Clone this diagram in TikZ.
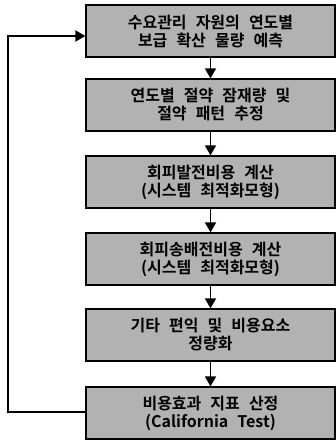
\documentclass[tikz,border=0pt]{standalone}
\usepackage{fontspec}
\newfontfamily\kr{Noto Sans CJK KR}[BoldFont={* Bold},WordSpace=2.5]
\usetikzlibrary{arrows.meta}
\begin{document}
\begin{tikzpicture}[x=1pt,y=-1pt,
  stepbox/.style={draw=black,line width=1.2pt,fill=gray!60,minimum width=249pt,minimum height=52pt,
    align=center,inner sep=0pt,font=\kr\bfseries\fontsize{16}{18}\selectfont,text=black},
  flow/.style={line width=1.6pt,-{Triangle[length=10pt,width=11pt]}}]
\useasboundingbox (0,0) rectangle (336,442);
\node[stepbox] (b1) at (210.5,31) {수요관리 자원의 연도별\\보급 확산 물량 예측};
\node[stepbox] (b2) at (210.5,105) {연도별 절약 잠재량 및\\절약 패턴 추정};
\node[stepbox] (b3) at (210.5,182) {회피발전비용 계산\\(시스템 최적화모형)};
\node[stepbox] (b4) at (210.5,259) {회피송배전비용 계산\\(시스템 최적화모형)};
\node[stepbox] (b5) at (210.5,335) {기타 편익 및 비용요소\\정량화};
\node[stepbox] (b6) at (210.5,413) {비용효과 지표 산정\\(California Test)};
\coordinate (lx) at (8,0);
\draw[flow] (b1) -- (b2);
\draw[flow] (b2) -- (b3);
\draw[flow] (b3) -- (b4);
\draw[flow] (b4) -- (b5);
\draw[flow] (b5) -- (b6);
\draw[flow] ([yshift=1pt]b6.west) -| (lx |- b6.west) |- ([yshift=-5pt]b1.west);
\end{tikzpicture}
\end{document}
